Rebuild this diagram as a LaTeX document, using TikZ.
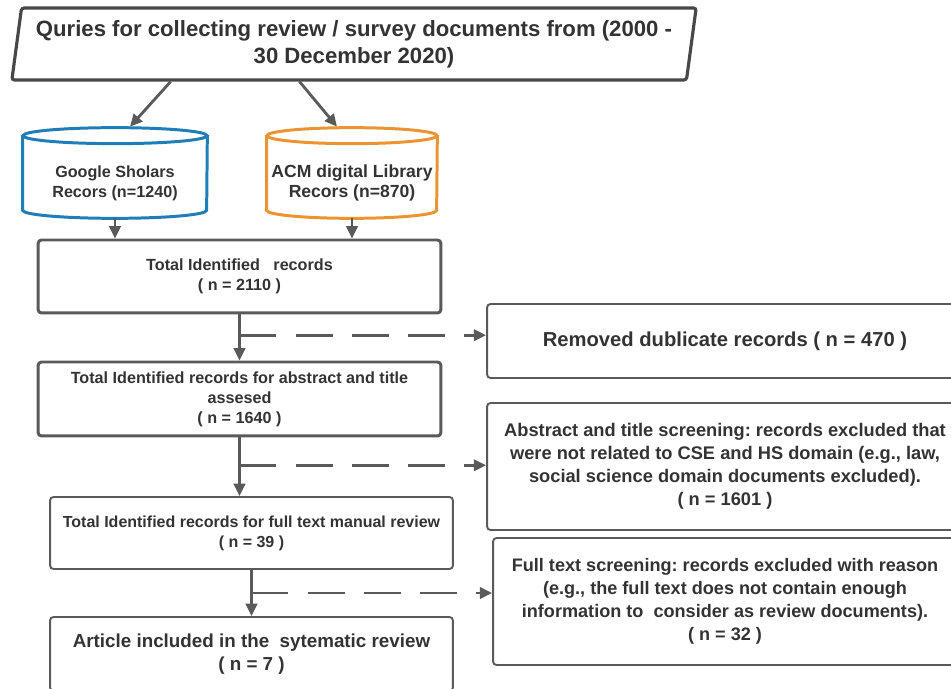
\documentclass[tikz,border=0pt]{standalone}
\usepackage{fontspec}
\setmainfont{Liberation Sans}
\usetikzlibrary{shapes.geometric,arrows.meta,calc}
\definecolor{linegray}{HTML}{5A5A5A}
\definecolor{textgray}{HTML}{333333}
\definecolor{gsblue}{HTML}{1F7DB8}
\definecolor{acmorange}{HTML}{EC9430}
\frenchspacing

\begin{document}
\begin{tikzpicture}[x=0.02cm, y=-0.02cm, text=textgray,
    arrow/.style = {draw=linegray, line width=1.6pt, -{Triangle[length=7pt,width=6.5pt]}},
    skip/.style = {arrow, dash pattern=on 21pt off 11pt},
    query/.style = {draw=linegray!80!black, line width=1.8pt, rounded corners=1.5pt, trapezium, trapezium stretches=true,
        trapezium left angle=79, trapezium right angle=101, minimum width=13.76cm, minimum height=1.44cm,
        inner sep=0pt, align=center, font=\bfseries\fontsize{12.6}{15.3}\selectfont},
    db/.style = {inner sep=0pt, minimum height=1.8cm},
    dbtext/.style = {align=center, inner sep=0pt},
    mainbox/.style = {draw=linegray, line width=1.7pt, rounded corners=2pt, minimum width=8.06cm,
        align=center, font=\bfseries\fontsize{9.2}{11.3}\selectfont},
    thinbox/.style = {draw=linegray, line width=1.1pt, rounded corners=2pt, minimum width=8.06cm,
        align=center, font=\bfseries\fontsize{9.1}{11.3}\selectfont},
    sidebox/.style = {draw=linegray, line width=1.1pt, rounded corners=2pt, align=center}]
\useasboundingbox (0,0) rectangle (951,689);

% search and sources
\node[query] (query) at (354,44) {Quries for collecting review / survey documents from (2000 -\\30 December 2020)};
\node[db, minimum width=3.68cm] (gs) at (115,173) {};
\node[db, minimum width=3.4cm] (acm) at (352,173) {};
\foreach \n/\c/\r in {gs/gsblue/1.84cm, acm/acmorange/1.7cm} {
    \draw[\c, line width=1.7pt] ($(\n.north west)+(0,8)$) -- ($(\n.south west)+(0,-8)$)
        arc[start angle=180, end angle=360, x radius=\r, y radius=0.16cm] -- ($(\n.north east)+(0,8)$);
    \draw[\c, line width=1.7pt] ($(\n.north)+(0,8)$) ellipse [x radius=\r, y radius=0.16cm];
}
\node[dbtext, font=\bfseries\fontsize{9.2}{11.3}\selectfont] (gstext) at (115,183) {Google Sholars\\Recors (n=1240)};
\node[dbtext, font=\bfseries\fontsize{10}{11.3}\selectfont] (acmtext) at (352,183) {ACM digital Library\\Recors (n=870)};

% main flow
\node[mainbox, minimum height=1.46cm] (total) at (239.5,276.5) {Total Identified \ \ records\\( n = 2110 )};
\node[mainbox, minimum height=1.48cm] (assessed) at (239.5,399) {Total Identified records for abstract and title\\assesed\\( n = 1640 )};
\node[thinbox, minimum height=1.44cm] (fulltext) at (251.5,533) {Total Identified records for full text manual review\\( n = 39 )};
\node[thinbox, minimum height=1.48cm, font=\bfseries\fontsize{10.7}{13}\selectfont] (included) at (251.5,654) {Article included in the \ sytematic review\\( n = 7 )};

% excluded records
\node[sidebox, minimum width=9.52cm, minimum height=1.48cm, font=\bfseries\fontsize{11.5}{13}\selectfont] (dup) at (725,341) {Removed dublicate records ( n = 470 )};
\node[sidebox, minimum width=9.52cm, minimum height=2.54cm, font=\bfseries\fontsize{10.4}{13}\selectfont] (notrel) at (725,466.5)
    {Abstract and title screening: records excluded that\\were not related to CSE and HS domain (e.g., law,\\social science domain documents excluded).\\( n = 1601 )};
\node[sidebox, minimum width=9.28cm, minimum height=2.54cm, font=\bfseries\fontsize{10.3}{13}\selectfont] (reason) at (725,601.5)
    {Full text screening: records excluded with reason\\(e.g., the full text does not contain enough\\information to \ consider as review documents).\\( n = 32 )};

\draw[arrow] ($(query.bottom left corner)!0.237!(query.bottom right corner)$) -- ($(gs.north)+(15,-1)$);
\draw[arrow] ($(query.bottom left corner)!0.427!(query.bottom right corner)$) -- ($(acm.north)+(-15,-1)$);
\draw[arrow] (gs.south) -- (gs.south |- total.north);
\draw[arrow] (acm.south) -- (acm.south |- total.north);

\draw[arrow] (total.south) -- (assessed.north);
\draw[arrow] (assessed.south) -- (assessed.south |- fulltext.north);
\draw[arrow] (fulltext.south) -- (included.north);

\coordinate (j1) at ($(total.south)!0.45!(assessed.north)$);
\coordinate (j2) at ($(assessed.south)!0.475!(assessed.south |- fulltext.north)$);
\coordinate (j3) at ($(fulltext.south)!0.5!(included.north)$);
\draw[skip] (j1) -- (j1 -| dup.west);
\draw[skip] (j2) -- (j2 -| notrel.west);
\draw[skip] (j3) -- (j3 -| reason.west);
\end{tikzpicture}
\end{document}
